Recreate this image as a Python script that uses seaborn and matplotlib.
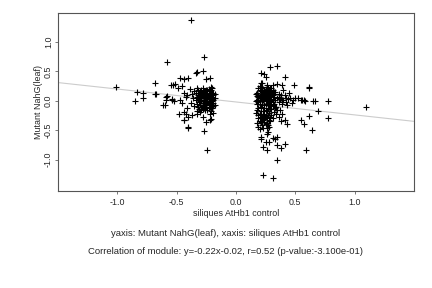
import numpy as np
import pandas as pd
import matplotlib
matplotlib.use("Agg")
import matplotlib.pyplot as plt
import seaborn as sns

# points (x = siliques AtHb1 control, y = Mutant NahG(leaf))
left_x = [
    -0.19, -0.20, -0.21, -0.22, -0.23, -0.24, -0.25, -0.26, -0.27, -0.28, -0.29, -0.30, -0.31, -0.32, -0.33,
    -0.19, -0.20, -0.21, -0.22, -0.23, -0.24, -0.25, -0.26, -0.27, -0.28, -0.29, -0.30, -0.31, -0.32, -0.34,
    -0.19, -0.20, -0.21, -0.22, -0.23, -0.24, -0.25, -0.26, -0.27, -0.28, -0.29, -0.30, -0.31, -0.33, -0.35,
    -0.19, -0.20, -0.21, -0.22, -0.23, -0.24, -0.25, -0.26, -0.27, -0.28, -0.29, -0.30, -0.32, -0.34, -0.36,
    -0.19, -0.20, -0.21, -0.22, -0.23, -0.24, -0.25, -0.26, -0.27, -0.28, -0.29, -0.30, -0.31, -0.33, -0.37,
    -0.19, -0.20, -0.21, -0.22, -0.23, -0.24, -0.25, -0.26, -0.27, -0.28, -0.29, -0.30, -0.31, -0.33, -0.38,
    -0.18, -0.18, -0.18, -0.20, -0.22, -0.24, -0.26, -0.21, -0.23, -0.25, -0.27, -0.35, -0.39, -0.41, -0.42,
]
left_y = [
    0.02, 0.11, -0.06, 0.16, -0.01, 0.08, -0.11, 0.05, 0.13, -0.03, 0.06, -0.08, 0.03, 0.10, -0.05,
    -0.09, 0.21, -0.17, 0.05, 0.12, -0.04, 0.19, -0.15, 0.00, 0.15, -0.10, 0.09, -0.14, 0.18, 0.02,
    0.14, -0.01, 0.07, -0.10, 0.20, -0.16, 0.03, 0.11, -0.07, 0.22, 0.01, -0.19, 0.13, 0.07, -0.09,
    -0.20, 0.06, 0.18, -0.02, -0.13, 0.14, 0.09, -0.05, 0.17, 0.08, -0.16, 0.00, -0.11, 0.14, 0.04,
    0.09, -0.13, 0.01, 0.10, 0.04, 0.00, -0.06, 0.16, -0.12, -0.09, 0.12, 0.17, -0.02, -0.18, 0.11,
    -0.04, 0.03, 0.24, -0.22, 0.08, 0.19, 0.13, 0.00, 0.06, -0.14, 0.19, 0.04, 0.08, 0.21, -0.04,
    0.05, -0.07, 0.12, -0.07, 0.00, 0.04, 0.08, -0.11, -0.07, 0.06, 0.10, 0.17, 0.20, -0.12, 0.06,
]
left_out_x = [
    -0.38, -0.58, -0.27, -0.28, -0.33, -1.01, -0.85, -0.83, -0.78, -0.78, -0.68, -0.68, -0.67,
    -0.61, -0.59, -0.59, -0.54, -0.52, -0.53, -0.51, -0.49, -0.47, -0.44, -0.40, -0.48, -0.44,
    -0.40, -0.27, -0.24, -0.21, -0.25, -0.34, -0.22, -0.25, -0.55, -0.45, -0.58, -0.60, -0.54,
    -0.47, -0.45, -0.44, -0.41, -0.44, -0.42, -0.44, -0.40, -0.37, -0.33, -0.28, -0.22, -0.40,
]
left_out_y = [
    1.38, 0.66, 0.75, 0.51, 0.49, 0.23, 0.00, 0.15, 0.13, 0.05, 0.30, 0.12, 0.11,
    -0.07, 0.07, 0.02, 0.03, 0.00, 0.27, 0.29, 0.21, 0.38, 0.37, 0.38, -0.22, -0.32,
    -0.45, -0.52, -0.83, -0.31, -0.36, 0.48, 0.38, 0.37, 0.27, 0.25, 0.08, -0.07, 0.02,
    0.01, -0.04, 0.13, 0.10, -0.19, -0.22, -0.33, -0.27, -0.24, -0.22, -0.27, -0.33, -0.46,
]

right_x = [
    0.18, 0.19, 0.20, 0.21, 0.22, 0.23, 0.24, 0.25, 0.26, 0.27, 0.28, 0.29, 0.30, 0.31, 0.32,
    0.18, 0.19, 0.20, 0.21, 0.22, 0.23, 0.24, 0.25, 0.26, 0.27, 0.28, 0.29, 0.30, 0.31, 0.33,
    0.18, 0.19, 0.20, 0.21, 0.22, 0.23, 0.24, 0.25, 0.26, 0.27, 0.28, 0.29, 0.30, 0.32, 0.34,
    0.18, 0.19, 0.20, 0.21, 0.22, 0.23, 0.24, 0.25, 0.26, 0.27, 0.28, 0.29, 0.30, 0.31, 0.33,
    0.18, 0.19, 0.20, 0.21, 0.22, 0.23, 0.24, 0.25, 0.26, 0.27, 0.28, 0.29, 0.30, 0.32, 0.35,
    0.18, 0.19, 0.20, 0.21, 0.22, 0.23, 0.24, 0.25, 0.26, 0.27, 0.28, 0.29, 0.31, 0.33, 0.36,
    0.17, 0.17, 0.17, 0.19, 0.20, 0.21, 0.22, 0.23, 0.24, 0.25, 0.26, 0.28, 0.30, 0.31, 0.34,
    0.19, 0.20, 0.21, 0.22, 0.23, 0.24, 0.25, 0.26, 0.27, 0.28, 0.29, 0.30, 0.32, 0.35, 0.37,
]
right_y = [
    0.02, 0.10, -0.06, 0.16, -0.01, 0.08, -0.12, 0.05, 0.13, -0.03, 0.06, -0.09, 0.03, 0.10, -0.05,
    -0.15, 0.21, -0.22, 0.05, 0.12, -0.18, 0.19, -0.26, 0.00, 0.15, -0.20, 0.09, -0.14, 0.18, 0.02,
    0.14, -0.30, 0.07, -0.10, 0.24, -0.32, 0.03, 0.11, -0.17, 0.22, 0.01, -0.27, 0.13, 0.07, -0.10,
    -0.38, 0.06, 0.18, -0.27, -0.08, 0.14, -0.36, -0.05, 0.17, -0.13, 0.10, 0.00, -0.24, -0.07, 0.15,
    0.08, -0.12, -0.34, 0.10, -0.41, 0.01, -0.22, 0.20, -0.38, 0.04, -0.33, 0.16, -0.02, -0.19, 0.05,
    -0.05, -0.44, 0.25, -0.36, 0.03, -0.25, 0.09, -0.16, 0.07, -0.42, -0.08, 0.21, -0.30, -0.12, -0.02,
    0.00, -0.20, 0.12, -0.02, 0.00, -0.18, 0.17, -0.46, -0.28, 0.15, -0.30, 0.18, 0.08, 0.02, -0.22,
    -0.24, -0.48, 0.22, -0.30, 0.05, -0.07, -0.40, 0.24, -0.24, -0.45, -0.14, 0.21, 0.12, -0.15, 0.03,
]
right_out_x = [
    0.38, 0.40, 0.42, 0.44, 0.46, 0.48, 0.50, 0.52, 0.55, 0.57, 0.39, 0.43, 0.47, 0.41, 0.36,
    0.35, 0.29, 0.21, 0.24, 0.25, 0.26, 0.21, 0.41, 0.22, 0.31, 0.35, 0.39, 0.49, 0.62, 0.40,
    0.45, 0.38, 0.39, 0.42, 0.32, 0.36, 0.37, 0.39, 0.21, 0.24, 0.29, 0.36, 0.38, 0.41, 0.43,
    0.55, 0.57, 0.26, 0.27, 0.26, 0.21, 0.21, 0.25, 0.28, 0.23, 0.26, 0.31, 0.33, 0.35, 0.35,
    0.38, 0.41, 0.35, 0.23, 0.31, 0.59, 0.62, 0.56, 0.58, 0.65, 0.67, 0.78, 0.69, 1.10, 0.62, 0.78, 0.64,
]
right_out_y = [
    0.04, 0.02, 0.05, 0.03, 0.05, 0.02, 0.04, 0.04, 0.02, 0.02, -0.06, -0.08, -0.03, 0.09, 0.12,
    0.60, 0.58, 0.47, 0.45, 0.40, 0.27, 0.30, 0.40, 0.30, 0.27, 0.29, 0.27, 0.27, 0.22, 0.18,
    0.13, 0.10, 0.01, -0.02, 0.15, 0.06, -0.15, -0.22, -0.29, -0.31, -0.35, -0.27, -0.35, -0.33, -0.40,
    -0.32, -0.40, -0.47, -0.53, -0.57, -0.62, -0.65, -0.71, -0.70, -0.79, -0.83, -0.63, -0.65, -0.62, -0.76,
    -0.80, -0.73, -1.01, -1.27, -1.32, -0.84, 0.24, 0.02, 0.00, 0.00, 0.00, -0.01, -0.18, -0.10, -0.26, -0.30, -0.50,
]

# fitted line of the module
slope = -0.22
intercept = -0.02

xs = left_x + left_out_x + right_x + right_out_x
ys = left_y + left_out_y + right_y + right_out_y
df = pd.DataFrame({"x": xs, "y": ys})

sns.set_style("ticks")
plt.rcParams["font.family"] = ["Liberation Sans", "DejaVu Sans"]

fig = plt.figure(figsize=(4.32, 2.88), dpi=100)
ax = fig.add_axes([0.134, 0.338, 0.824, 0.616])

ax.axline((0, intercept), slope=slope, color="#cccccc", lw=0.8, zorder=1)
sns.scatterplot(data=df, x="x", y="y", marker="+", color="black", s=13,
                linewidth=0.8, ax=ax, zorder=2)

ax.set_xlim(-1.5, 1.5)
ax.set_ylim(-1.53, 1.49)
ticks = [-1.0, -0.5, 0.0, 0.5, 1.0]
ax.set_xticks(ticks)
ax.set_yticks(ticks)
ax.set_xticklabels([f"{t:.1f}" for t in ticks], fontsize=6.4)
ax.set_yticklabels([f"{t:.1f}" for t in ticks], fontsize=6.4, rotation=90, va="center")
ax.tick_params(length=2.5, width=0.5, color="#444444")
ax.tick_params(axis="x", pad=3)
ax.tick_params(axis="y", pad=1)
for sp in ax.spines.values():
    sp.set_visible(True)
    sp.set_color("#555555")
    sp.set_linewidth(0.8)

ax.set_xlabel("siliques AtHb1 control", fontsize=6.4, labelpad=1)
ax.set_ylabel("Mutant NahG(leaf)", fontsize=6.4, labelpad=1)

fig.text(0.523, 0.188, "yaxis: Mutant NahG(leaf), xaxis: siliques AtHb1 control",
         ha="center", va="center", fontsize=6.8)
fig.text(0.523, 0.125, "Correlation of module: y=-0.22x-0.02, r=0.52 (p-value:-3.100e-01)",
         ha="center", va="center", fontsize=6.8)

fig.savefig("out.png", dpi=100)
